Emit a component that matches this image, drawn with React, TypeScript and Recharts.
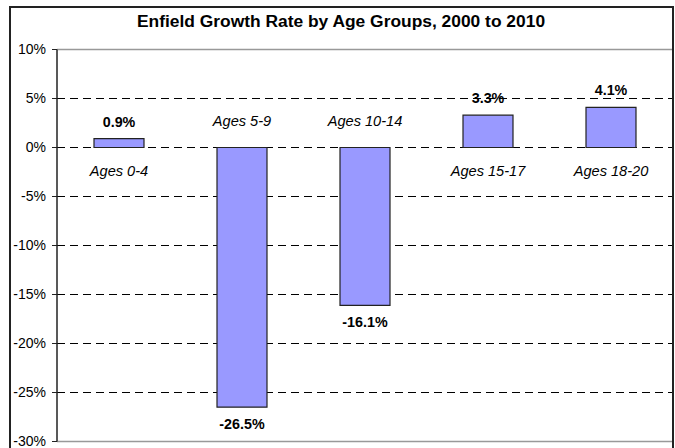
import React from 'react';
import { BarChart, Bar, XAxis, YAxis, CartesianGrid, ReferenceLine, LabelList } from 'recharts';

const ageGroups = ['Ages 0-4', 'Ages 5-9', 'Ages 10-14', 'Ages 15-17', 'Ages 18-20'];
const growthRates = [0.9, -26.5, -16.1, 3.3, 4.1];
const yTicks = [-30, -25, -20, -15, -10, -5, 0, 5, 10];

const data = ageGroups.map((group, i) => ({ group, rate: growthRates[i] }));

const FONT = '"Liberation Sans", Arial, sans-serif';

// top and bottom of the bar rectangle, whatever sign the value has
const barEdges = (y: number, height: number) => {
    const a = Number(y);
    const b = Number(y) + Number(height);
    return { top: Math.min(a, b), bottom: Math.max(a, b) };
};

const ValueLabel = (props: any) => {
    const { x, y, width, height, index } = props;
    const v = growthRates[index];
    const { top, bottom } = barEdges(y, height);
    const cy = v >= 0 ? top - 17 : bottom + 17;
    return (
        <text x={Number(x) + Number(width) / 2} y={cy} textAnchor="middle" dominantBaseline="central"
            fontFamily={FONT} fontSize={14.3} fontWeight="bold" fill="#000">
            {v.toFixed(1)}%
        </text>
    );
};

const GroupLabel = (props: any) => {
    const { x, y, width, height, index } = props;
    const v = growthRates[index];
    const { top, bottom } = barEdges(y, height);
    // positive bars get the name under the zero line, negative ones above it
    const cy = v >= 0 ? bottom + 23 : top - 27;
    return (
        <text x={Number(x) + Number(width) / 2} y={cy} textAnchor="middle" dominantBaseline="central"
            fontFamily={FONT} fontSize={14.6} fontStyle="italic" fill="#000">
            {ageGroups[index]}
        </text>
    );
};

export default function App() {
    return (
        <div style={{ position: 'absolute', left: 0, top: 0, width: 675, height: 448, background: '#fff', overflow: 'hidden' }}>
            <div style={{
                position: 'absolute', left: 9, top: 6, width: 661, height: 460,
                borderLeft: '2px solid #222', borderTop: '2px solid #222', borderRight: '2px solid #222',
            }} />
            <div style={{
                position: 'absolute', left: 10, top: 11, width: 662, textAlign: 'center',
                fontFamily: FONT, fontSize: 17.4, fontWeight: 'bold', color: '#000',
            }}>
                Enfield Growth Rate by Age Groups, 2000 to 2010
            </div>
            <BarChart width={675} height={448} data={data}
                margin={{ top: 49.5, right: 3, bottom: 6.5, left: 0 }} barSize={50}
                style={{ position: 'absolute', left: 0, top: 0 }}>
                <CartesianGrid vertical={false} stroke="#000" strokeDasharray="8 5" />
                <XAxis dataKey="group" hide />
                <YAxis domain={[-30, 10]} ticks={yTicks} interval={0} width={57}
                    tickFormatter={(v) => `${v}%`} tickSize={5} tickMargin={6}
                    axisLine={{ stroke: '#222', strokeWidth: 1.5 }} tickLine={{ stroke: '#222' }}
                    tick={{ fontFamily: FONT, fontSize: 14, fill: '#000' }} />
                <ReferenceLine y={10} stroke="#999" strokeWidth={1.5} />
                <ReferenceLine y={-30} stroke="#999" strokeWidth={1.5} />
                <Bar dataKey="rate" fill="#9999FF" stroke="#222" strokeWidth={1.2} isAnimationActive={false}>
                    <LabelList dataKey="rate" content={ValueLabel} />
                    <LabelList dataKey="group" content={GroupLabel} />
                </Bar>
            </BarChart>
        </div>
    );
}
